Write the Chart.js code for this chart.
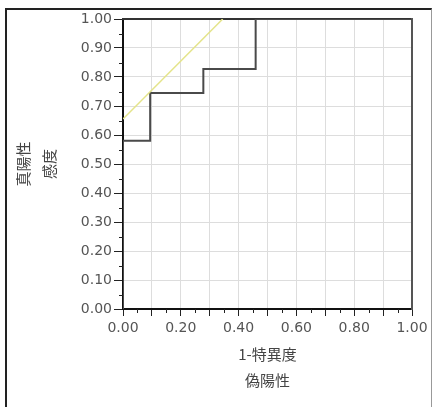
<!DOCTYPE html>
<html>
<head>
<meta charset="utf-8">
<script src="https://cdn.jsdelivr.net/npm/chart.js@4"></script>
<style>
    html, body { margin: 0; padding: 0; background: #fff; }
    #wrap { position: relative; width: 432px; height: 407px; overflow: hidden; }
    #frame {
        position: absolute; left: 5px; top: 8px; width: 424px; height: 420px;
        border-left: 2px solid #222; border-top: 2px solid #222; border-right: 1px solid #999;
    }
    #chart { position: absolute; left: 0; top: 0; }
</style>
</head>
<body>
<div id="wrap">
    <div id="frame"></div>
    <canvas id="chart" width="432" height="407"></canvas>
</div>
<script>
    // ROC curve (1-特異度, 感度)
    const rocFpr = [0, 0, 0.094, 0.094, 0.278, 0.278, 0.459, 0.459, 1];
    const rocTpr = [0, 0.58, 0.58, 0.745, 0.745, 0.828, 0.828, 1, 1];

    // tangent line
    const tanFpr = [0, 0.345];
    const tanTpr = [0.655, 1];

    const xTitle = ['1-特異度', '偽陽性'];
    const yTitle = ['真陽性', '感度'];
    const minorTicks = [0.05, 0.15, 0.25, 0.35, 0.45, 0.55, 0.65, 0.75, 0.85, 0.95];

    const toPoints = (xs, ys) => xs.map((x, i) => ({ x, y: ys[i] }));

    const tickFont = { family: 'DejaVu Sans', size: 14 };
    const titleFont = { family: 'Noto Sans CJK JP', size: 15, lineHeight: 26 / 15 };

    // minor tick marks at the half steps
    const minorTickPlugin = {
        id: 'minorTicks',
        afterDraw(chart) {
            const { ctx, chartArea, scales } = chart;
            ctx.save();
            ctx.strokeStyle = '#222';
            ctx.lineWidth = 1;
            ctx.beginPath();
            minorTicks.forEach((v) => {
                const px = Math.round(scales.x.getPixelForValue(v)) + 0.5;
                ctx.moveTo(px, chartArea.bottom);
                ctx.lineTo(px, chartArea.bottom + 4);
                const py = Math.round(scales.y.getPixelForValue(v)) + 0.5;
                ctx.moveTo(chartArea.left - 4, py);
                ctx.lineTo(chartArea.left, py);
            });
            ctx.stroke();
            ctx.restore();
        }
    };

    new Chart(document.getElementById('chart'), {
        type: 'scatter',
        data: {
            datasets: [
                {
                    data: toPoints(tanFpr, tanTpr),
                    showLine: true,
                    borderColor: '#e4e48a',
                    borderWidth: 1.5,
                    pointRadius: 0
                },
                {
                    data: toPoints(rocFpr, rocTpr),
                    showLine: true,
                    borderColor: '#4a4a4a',
                    borderWidth: 2,
                    pointRadius: 0
                }
            ]
        },
        plugins: [minorTickPlugin],
        options: {
            responsive: false,
            animation: false,
            layout: { padding: { left: 0, top: 19, right: 20, bottom: 0 } },
            plugins: { legend: { display: false }, tooltip: { enabled: false } },
            scales: {
                x: {
                    type: 'linear',
                    min: 0,
                    max: 1,
                    afterFit: (s) => { s.height = 98; },
                    grid: { color: '#dddddd', tickColor: '#222', tickLength: 7 },
                    border: { color: '#111', width: 2 },
                    ticks: {
                        stepSize: 0.1,
                        autoSkip: false,
                        maxRotation: 0,
                        padding: 4,
                        color: '#555',
                        font: tickFont,
                        callback: (v) => (Math.round(v * 10) % 2 === 0 ? Number(v).toFixed(2) : '')
                    },
                    title: {
                        display: true,
                        text: xTitle,
                        color: '#444',
                        font: titleFont,
                        padding: { top: 0, bottom: 14 }
                    }
                },
                y: {
                    type: 'linear',
                    min: 0,
                    max: 1,
                    afterFit: (s) => { s.width = 123; },
                    grid: { color: '#dddddd', tickColor: '#222', tickLength: 9 },
                    border: { color: '#111', width: 2 },
                    ticks: {
                        stepSize: 0.1,
                        padding: 2,
                        color: '#555',
                        font: tickFont,
                        callback: (v) => Number(v).toFixed(2)
                    },
                    title: {
                        display: true,
                        text: yTitle,
                        color: '#444',
                        font: titleFont,
                        padding: { top: 10, bottom: 0 }
                    }
                },
                x2: {
                    type: 'linear',
                    position: 'top',
                    min: 0,
                    max: 1,
                    afterFit: (s) => { s.height = 0; },
                    grid: { display: false },
                    ticks: { display: false },
                    border: { color: '#333', width: 2 }
                },
                y2: {
                    type: 'linear',
                    position: 'right',
                    min: 0,
                    max: 1,
                    afterFit: (s) => { s.width = 0; },
                    grid: { display: false },
                    ticks: { display: false },
                    border: { color: '#555', width: 2 }
                }
            }
        }
    });
</script>
</body>
</html>
